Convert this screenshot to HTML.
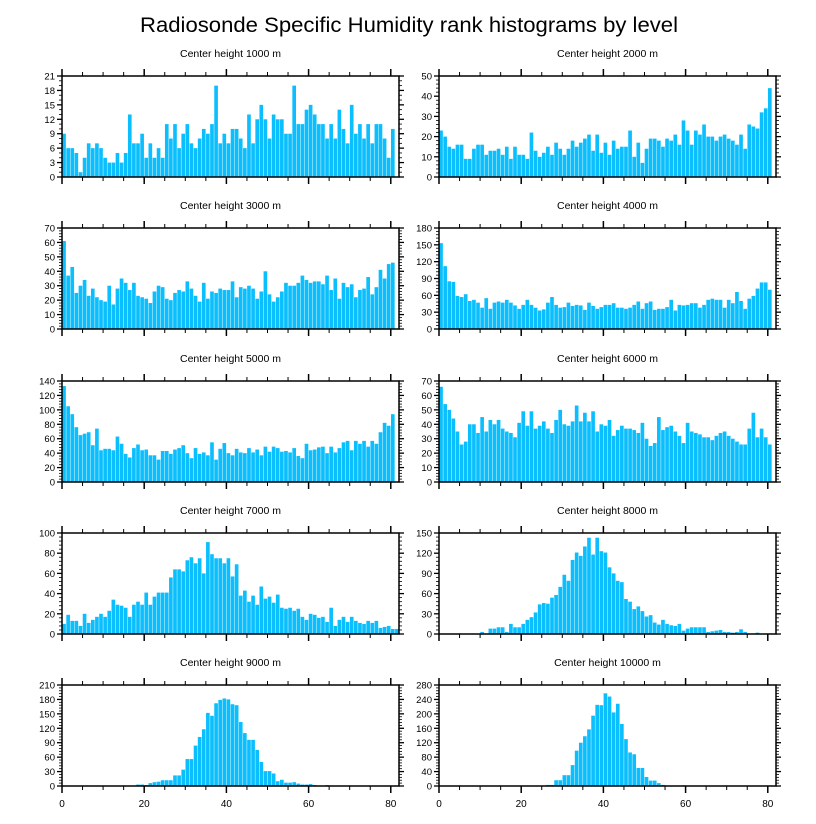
<!DOCTYPE html>
<html><head><meta charset="utf-8"><style>
html,body{margin:0;padding:0;background:#fff;}
svg{display:block;font-family:"Liberation Sans",Arial,sans-serif;}
</style></head><body>
<svg id="chart" width="816" height="824" viewBox="0 0 816 824" xmlns="http://www.w3.org/2000/svg">
<text x="409" y="32" text-anchor="middle" font-size="21" textLength="538" lengthAdjust="spacingAndGlyphs">Radiosonde Specific Humidity rank histograms by level</text>
</svg>
<script>
const titles = ["Center height 1000 m","Center height 2000 m","Center height 3000 m","Center height 4000 m","Center height 5000 m","Center height 6000 m","Center height 7000 m","Center height 8000 m","Center height 9000 m","Center height 10000 m"];
const yMax = [21,50,70,180,140,70,100,150,210,280];
const yStep = [3,10,10,30,20,10,20,30,30,40];
const xTicks = [0,20,40,60,80];
const h1000 = [9,6,6,5,1,4,7,6,7,6,4,3,3,5,3,5,13,7,7,9,4,7,4,6,4,11,8,11,6,9,11,7,6,8,10,9,11,19,7,9,7,10,10,8,6,13,7,12,15,12,8,13,12,12,9,9,19,11,11,14,15,13,11,11,8,11,8,14,10,7,15,9,11,8,11,7,11,11,8,4,10];
const h2000 = [23,20,15,14,16,16,9,9,14,16,16,11,13,13,14,11,15,9,15,11,11,9,22,13,10,12,15,11,17,14,11,14,18,15,17,19,21,13,21,12,17,11,18,14,15,15,23,10,17,7,14,19,19,18,15,19,18,21,16,28,23,16,23,21,26,20,20,18,20,21,19,18,16,21,14,26,25,24,32,34,44];
const h3000 = [61,37,43,25,30,34,23,28,22,20,19,30,17,28,35,32,27,32,23,22,21,18,26,30,29,21,20,25,27,26,33,28,23,19,32,21,26,25,28,27,27,33,22,29,28,30,28,21,26,40,24,19,22,26,32,30,30,32,37,34,32,33,33,31,37,27,35,21,32,29,31,22,27,28,36,24,29,41,35,45,46];
const h4000 = [153,112,85,84,59,57,62,50,52,47,38,55,36,47,49,47,52,47,42,36,43,52,43,38,33,35,47,57,43,38,39,47,41,43,42,34,47,41,36,39,43,43,46,38,38,36,38,43,49,36,46,49,34,36,36,39,52,33,43,42,43,46,46,38,43,52,54,52,52,38,52,46,66,50,36,54,59,72,83,83,70];
const h5000 = [133,105,94,76,65,67,69,51,74,44,46,46,44,63,53,39,34,47,52,44,45,37,37,31,43,43,39,45,47,51,40,33,47,39,41,37,55,31,46,54,40,37,46,41,40,47,41,45,37,49,42,49,47,42,43,41,47,36,33,53,44,45,48,49,40,49,41,47,55,57,44,57,53,57,49,57,53,69,82,78,94];
const h6000 = [66,54,50,44,35,26,28,40,40,34,45,35,43,40,43,37,35,34,31,41,49,39,49,37,39,42,37,34,43,50,40,39,42,53,42,48,42,49,35,40,39,43,32,36,39,37,37,36,34,41,30,25,27,45,36,38,39,35,32,27,41,35,34,33,31,31,29,32,34,35,32,30,28,26,26,37,48,31,37,31,26];
const h7000 = [10,19,13,13,8,20,11,14,17,20,17,23,34,29,28,26,17,29,32,29,41,29,37,41,41,41,56,64,64,62,73,76,70,75,60,91,79,75,75,70,75,57,69,38,43,32,38,29,47,35,37,31,39,26,25,26,23,25,17,14,20,19,16,17,12,26,8,14,17,12,17,13,11,10,13,11,13,6,7,8,5,5];
const h8000 = [0,0,0,0,0,0,0,0,0,0,3,0,8,8,10,10,3,15,10,10,15,21,25,32,44,46,45,54,58,70,88,79,110,121,116,130,143,118,143,123,121,99,90,79,77,52,48,37,41,34,26,28,17,14,21,15,13,12,15,5,8,10,10,10,10,3,4,5,6,3,3,2,3,7,3,0,0,2,0,0,0,0];
const h9000 = [0,0,0,0,0,0,0,0,0,0,0,0,0,0,0,1,1,1,3,3,2,6,8,9,12,12,12,22,22,34,56,56,84,102,118,152,146,172,179,182,180,170,168,133,110,96,96,75,50,31,31,26,10,13,7,7,8,5,3,3,4,2,1,1,2,0,0,1,0,0,0,0,0,0,0,0,0,0,0,0,0,0];
const h10000 = [0,0,0,0,0,0,0,0,0,0,0,0,0,0,0,0,0,0,0,0,0,0,0,0,0,0,3,3,16,16,30,30,58,98,120,138,157,195,225,224,257,248,204,228,172,130,93,88,50,50,25,15,15,8,3,1,0,0,0,2,0,0,0,0,0,0,0,0,0,0,0,0,0,0,0,0,0,0,0,0,0,0];
const series = [h1000,h2000,h3000,h4000,h5000,h6000,h7000,h8000,h9000,h10000];

const NS = "http://www.w3.org/2000/svg";
const svg = document.getElementById('chart');
const colX = [62, 439];
const plotW = 337;
const rowY = [76, 228, 381, 533, 685];
const plotH = 101;
const xDom = 82;
function mk(tag, attrs, parent){
  const e = document.createElementNS(NS, tag);
  for (const k in attrs) e.setAttribute(k, attrs[k]);
  (parent||svg).appendChild(e);
  return e;
}
series.forEach((vals, p) => {
  const x0 = colX[p % 2], y0 = rowY[Math.floor(p / 2)];
  const g = mk('g', {});
  
  
  const xs = v => x0 + v * plotW / xDom;
  const ys = v => y0 + plotH - v * plotH / yMax[p];
  const t = mk('text', {x: x0 + plotW / 2, y: y0 - 19, 'text-anchor': 'middle', 'font-size': 10.5}, g);
  
  
  t.textContent = titles[p];
  const bw = plotW / xDom;
  vals.forEach((v, i) => {
    if (v <= 0) return;
    const r = mk('rect', {x: xs(i) + 0.2, y: ys(v), width: bw - 0.45, height: ys(0) - ys(v), fill: '#0bbfff'}, g);
    
    
  });
  const fr = mk('rect', {x: x0, y: y0, width: plotW, height: plotH, fill: 'none', stroke: '#000', 'stroke-width': 1.5}, g);
  
  
  for (let v = 0; v <= 80; v += 5) {
    const major = v % 20 === 0;
    const len = major ? 7 : 4;
    const X = xs(v);
    mk('line', {x1: X, x2: X, y1: y0, y2: y0 - len, stroke: '#000', 'stroke-width': major ? 1.5 : 1}, g);
    mk('line', {x1: X, x2: X, y1: y0 + plotH, y2: y0 + plotH + len, stroke: '#000', 'stroke-width': major ? 1.5 : 1}, g);
  }
  if (p >= 8) {
    xTicks.forEach(v => {
      const tl = mk('text', {x: xs(v), y: y0 + plotH + 21, 'text-anchor': 'middle', 'font-size': 10}, g);
      
      
      tl.textContent = v;
    });
  }
  const st = yStep[p], minor = st / 5 >= 1 && Number.isInteger(st / 5) ? st / 5 : st / 3;
  for (let v = 0; v <= yMax[p] + 1e-9; v += minor) {
    const Y = ys(v);
    const isMaj = Math.abs(v / st - Math.round(v / st)) < 1e-6;
    const len = isMaj ? 5 : 3;
    mk('line', {x1: x0, x2: x0 - len, y1: Y, y2: Y, stroke: '#000', 'stroke-width': isMaj ? 1.3 : 0.8}, g);
    mk('line', {x1: x0 + plotW, x2: x0 + plotW + len, y1: Y, y2: Y, stroke: '#000', 'stroke-width': isMaj ? 1.3 : 0.8}, g);
  }
  for (let v = 0; v <= yMax[p]; v += st) {
    const yl = mk('text', {x: x0 - 7, y: ys(v) + 3.5, 'text-anchor': 'end', 'font-size': 9.5}, g);
    
    
    yl.textContent = v;
  }
});
</script>
</body></html>
